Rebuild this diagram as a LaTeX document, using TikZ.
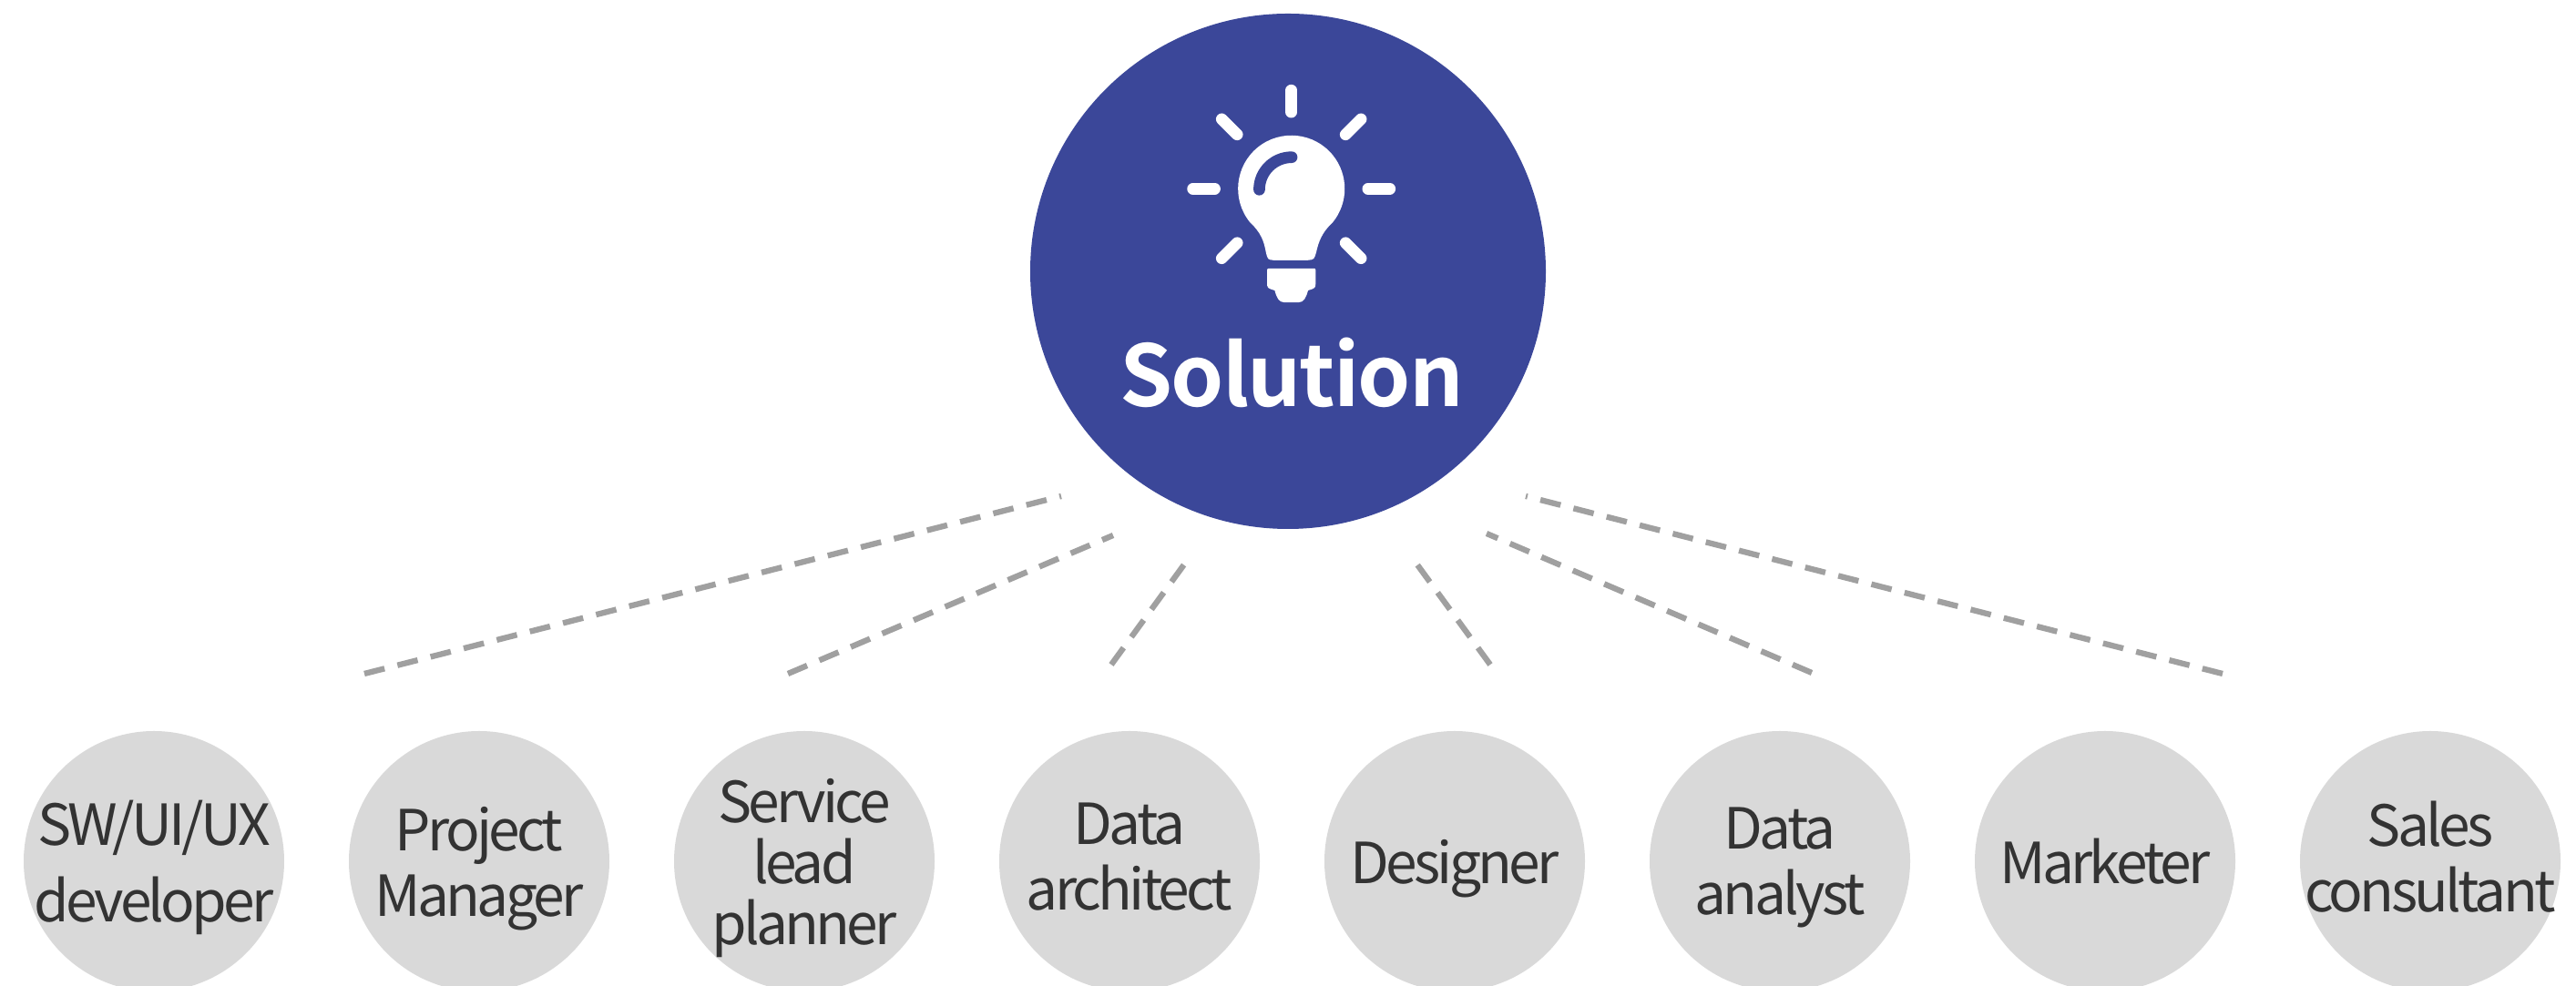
\documentclass[tikz,border=0pt]{standalone}
\usepackage{fontspec}
\setmainfont{Noto Sans CJK KR}
\newfontfamily\rolefont[LetterSpace=-6]{Noto Sans CJK KR}
\newfontfamily\mainfont[LetterSpace=-2]{Noto Sans CJK KR Bold}
\usetikzlibrary{positioning}

\definecolor{solutionblue}{HTML}{3B4799}
\definecolor{rolegrey}{HTML}{D9D9D9}
\definecolor{dashgrey}{HTML}{A0A0A0}
\definecolor{roletext}{HTML}{333333}

\begin{document}
\begin{tikzpicture}[%
    node distance=3.57cm,
    on grid,
    solution/.style={circle,fill=solutionblue,minimum size=5.66cm,inner sep=0pt},
    role/.style={circle,fill=rolegrey,minimum size=2.86cm,inner sep=-0.9cm,align=center,
        text depth=0pt,text=roletext,font=\rolefont\fontsize{17.7}{20.5}\selectfont},
    link/.style={draw=dashgrey,line width=1.8pt,dash pattern=on 0.229cm off 0.146cm},
    ray/.style={draw=white,line width=0.127cm,line cap=round}
    ]

    \useasboundingbox (0,0) rectangle (28.28,10.83);

    \node[solution] (main) at (14.14,7.85) {};
    \node[text=white,anchor=base,font=\mainfont\fontsize{26.5}{31}\selectfont] (mainlabel) at (14.18,6.36) {Solution};

    \node[role] (sw) at (1.69,1.37) {SW/UI/UX\\[0.12cm]developer};
    \node[role] (pm) [right of=sw] {Project\\Manager};
    \node[role] (sl) [right of=pm] {Service\\[-0.05cm]lead\\[-0.05cm]planner};
    \node[role,text depth=0.11cm] (da) [right of=sl] {Data\\architect};
    \node[role] (de) [right of=da] {Designer};
    \node[role] (an) [right of=de] {Data\\analyst};
    \node[role] (ma) [right of=an] {Marketer};
    \node[role,text depth=0.11cm] (sc) [right of=ma] {Sales\\consultant};

    % free ends of the dashed lines
    \coordinate (swtop) at (4.00,3.43);
    \coordinate (swend) at (11.65,5.38);
    \coordinate (pmtop) at (8.65,3.43);
    \coordinate (pmend) at (12.22,4.95);
    \coordinate (sltop) at (12.20,3.53);
    \coordinate (slend) at (13.00,4.63);
    \coordinate (datop) at (16.36,3.53);
    \coordinate (daend) at (15.55,4.64);
    \coordinate (detop) at (19.89,3.44);
    \coordinate (deend) at (16.32,4.97);
    \coordinate (antop) at (24.40,3.43);
    \coordinate (anend) at (16.75,5.38);

    \path[link] (swtop) -- (swend);
    \path[link] (pmtop) -- (pmend);
    \path[link] (sltop) -- (slend);
    \path[link] (datop) -- (daend);
    \path[link] (detop) -- (deend);
    \path[link] (antop) -- (anend);

    % lamp, units are a third of a pixel
    \begin{scope}[shift={(14.177,8.757)},x=0.00333cm,y=0.00333cm]
    \path[ray] (90:253) -- (90:325);
    \path[ray] (45:253) -- (45:325);
    \path[ray] (135:253) -- (135:325);
    \path[ray] (0:253) -- (0:325);
    \path[ray] (180:253) -- (180:325);
    \path[ray] (225:253) -- (225:325);
    \path[ray] (315:253) -- (315:325);
    \fill[white] (219:176) arc[start angle=219,end angle=-39,radius=176]
        .. controls (100,-145) and (90,-175) .. (82,-210)
        .. controls (75,-234) .. (55,-236) -- (-60,-236)
        .. controls (-78,-234) .. (-84,-210)
        .. controls (-90,-175) and (-100,-145) .. cycle;
    \fill[white] (-68,-263) -- (68,-263) .. controls (80,-263) .. (80,-275) -- (80,-310)
        .. controls (80,-328) .. (55,-336) .. controls (48,-362) and (40,-375) .. (25,-375)
        -- (-25,-375) .. controls (-40,-375) and (-48,-362) .. (-55,-336)
        .. controls (-80,-328) .. (-80,-310) -- (-80,-275) .. controls (-80,-263) .. cycle;
    \draw[solutionblue,line width=0.127cm,line cap=round] (-106,-3) arc[start angle=180,end angle=90,radius=107];
    \end{scope}

\end{tikzpicture}
\end{document}
